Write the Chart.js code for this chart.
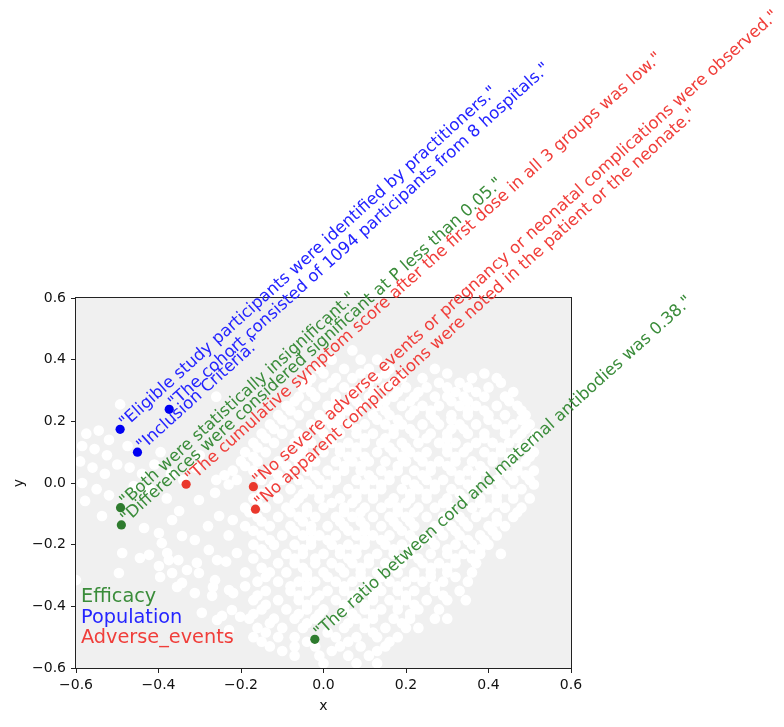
<!DOCTYPE html>
<html><head><meta charset="utf-8">
<script src="https://cdn.jsdelivr.net/npm/chart.js@4.4.1/dist/chart.umd.min.js"></script>
<style>html,body{margin:0;padding:0;background:#fff;}#c{display:block;}</style>
</head><body>
<canvas id="c" width="784" height="727"></canvas>
<script>
// ---------- data ----------
const categories = ['Efficacy', 'Population', 'Adverse_events'];

const efficacyX = [-0.492, -0.490, -0.021];
const efficacyY = [-0.080, -0.136, -0.507];
const efficacyText = ['Both were statistically insignificant.',
  'Differences were considered significant at P less than 0.05.',
  'The ratio between cord and maternal antibodies was 0.38.'];

const populationX = [-0.493, -0.451, -0.374];
const populationY = [0.174, 0.100, 0.239];
const populationText = ['Eligible study participants were identified by practitioners.',
  'Inclusion Criteria.',
  'The cohort consisted of 1094 participants from 8 hospitals.'];

const adverseX = [-0.333, -0.170, -0.165];
const adverseY = [-0.004, -0.012, -0.085];
const adverseText = ['The cumulative symptom score after the first dose in all 3 groups was low.',
  'No severe adverse events or pregnancy or neonatal complications were observed.',
  'No apparent complications were noted in the patient or the neonate.'];

const tickValues = [-0.6, -0.4, -0.2, 0.0, 0.2, 0.4, 0.6];

// background (white) point cloud, rows of [y, [x...]]
const cloudRows = [
  [0.43, [0.07]],
  [0.40, [0.02, 0.09, 0.13]],
  [0.37, [-0.01, 0.05, 0.11, 0.16, 0.27]],
  [0.34, [-0.03, 0.03, 0.07, 0.13, 0.19, 0.24, 0.36, 0.42]],
  [0.31, [-0.05, 0.0, 0.05, 0.09, 0.15, 0.2, 0.25, 0.3, 0.35, 0.4]],
  [0.28, [-0.06, -0.02, 0.03, 0.07, 0.11, 0.17, 0.22, 0.27, 0.3, 0.34, 0.39, 0.44]],
  [0.25, [-0.09, -0.04, 0.01, 0.05, 0.09, 0.13, 0.19, 0.24, 0.28, 0.33, 0.37, 0.42, 0.47]],
  [0.22, [-0.11, -0.06, -0.01, 0.04, 0.08, 0.12, 0.16, 0.21, 0.26, 0.31, 0.35, 0.4, 0.44, 0.49]],
  [0.19, [-0.13, -0.08, -0.03, 0.02, 0.06, 0.1, 0.15, 0.19, 0.24, 0.28, 0.33, 0.37, 0.42, 0.46, 0.5]],
  [0.16, [-0.15, -0.1, -0.06, 0.0, 0.04, 0.08, 0.12, 0.17, 0.22, 0.26, 0.3, 0.35, 0.39, 0.44, 0.48, 0.515]],
  [0.13, [-0.17, -0.12, -0.07, -0.03, 0.02, 0.06, 0.1, 0.14, 0.19, 0.23, 0.28, 0.32, 0.37, 0.41, 0.45, 0.5]],
  [0.10, [-0.19, -0.14, -0.09, -0.05, 0.0, 0.04, 0.08, 0.13, 0.17, 0.21, 0.25, 0.3, 0.34, 0.39, 0.43, 0.47, 0.51]],
  [0.07, [-0.2, -0.16, -0.11, -0.06, -0.02, 0.03, 0.07, 0.11, 0.15, 0.2, 0.24, 0.28, 0.32, 0.36, 0.41, 0.45, 0.49]],
  [0.04, [-0.22, -0.17, -0.13, -0.08, -0.04, 0.01, 0.05, 0.09, 0.14, 0.18, 0.22, 0.26, 0.31, 0.35, 0.39, 0.43, 0.47, 0.51]],
  [0.01, [-0.26, -0.21, -0.15, -0.1, -0.06, -0.01, 0.03, 0.08, 0.12, 0.16, 0.2, 0.25, 0.29, 0.33, 0.37, 0.42, 0.46, 0.5]],
  [-0.02, [-0.13, -0.08, -0.03, 0.01, 0.06, 0.1, 0.14, 0.19, 0.23, 0.27, 0.31, 0.36, 0.4, 0.44, 0.48]],
  [-0.05, [-0.17, -0.11, -0.06, -0.01, 0.04, 0.08, 0.12, 0.17, 0.21, 0.25, 0.3, 0.34, 0.38, 0.42, 0.46, 0.5]],
  [-0.08, [-0.19, -0.14, -0.09, -0.04, 0.0, 0.05, 0.1, 0.14, 0.18, 0.23, 0.27, 0.31, 0.36, 0.4, 0.44, 0.48]],
  [-0.11, [-0.16, -0.11, -0.06, -0.02, 0.03, 0.07, 0.12, 0.16, 0.2, 0.25, 0.29, 0.33, 0.37, 0.42, 0.46]],
  [-0.14, [-0.19, -0.13, -0.08, -0.03, 0.01, 0.05, 0.1, 0.14, 0.18, 0.22, 0.27, 0.31, 0.35, 0.4, 0.44]],
  [-0.17, [-0.15, -0.1, -0.05, -0.01, 0.03, 0.08, 0.12, 0.16, 0.21, 0.25, 0.29, 0.33, 0.38, 0.42]],
  [-0.20, [-0.17, -0.12, -0.07, -0.03, 0.02, 0.06, 0.1, 0.15, 0.19, 0.23, 0.27, 0.32, 0.36, 0.4]],
  [-0.23, [-0.14, -0.09, -0.05, 0.0, 0.04, 0.08, 0.13, 0.17, 0.21, 0.26, 0.3, 0.34, 0.38, 0.43]],
  [-0.26, [-0.11, -0.07, -0.02, 0.02, 0.07, 0.11, 0.15, 0.19, 0.24, 0.28, 0.32, 0.37]],
  [-0.29, [-0.19, -0.13, -0.09, -0.04, 0.0, 0.05, 0.09, 0.13, 0.18, 0.22, 0.26, 0.3, 0.36]],
  [-0.32, [-0.16, -0.11, -0.06, -0.02, 0.03, 0.07, 0.11, 0.16, 0.2, 0.24, 0.29, 0.35]],
  [-0.35, [-0.14, -0.08, -0.04, 0.01, 0.05, 0.09, 0.14, 0.18, 0.22, 0.27, 0.33]],
  [-0.38, [-0.17, -0.11, -0.06, -0.02, 0.03, 0.07, 0.12, 0.16, 0.2, 0.25, 0.3, 0.345]],
  [-0.41, [-0.15, -0.09, -0.04, 0.0, 0.05, 0.1, 0.14, 0.18, 0.23, 0.28]],
  [-0.44, [-0.18, -0.12, -0.07, -0.02, 0.03, 0.08, 0.12, 0.17, 0.21, 0.27, 0.3]],
  [-0.47, [-0.16, -0.1, -0.05, 0.05, 0.1, 0.15, 0.2, 0.23]],
  [-0.50, [-0.17, -0.11, -0.07, 0.03, 0.08, 0.13, 0.18]],
  [-0.53, [-0.13, -0.07, -0.02, 0.04, 0.09, 0.15]],
  [-0.56, [-0.07, -0.01, 0.06, 0.11]],
  [-0.585, [0.0, 0.08, 0.13]]
];
// staggered rows between the ones above (with holes)
const cloudRowsB = [
  [0.355, [0.0, 0.09, 0.15, 0.3, 0.39]],
  [0.325, [-0.04, 0.02, 0.11, 0.17, 0.28, 0.33, 0.43]],
  [0.295, [-0.03, 0.07, 0.12, 0.18, 0.23, 0.32, 0.37, 0.46]],
  [0.265, [-0.07, 0.03, 0.08, 0.15, 0.21, 0.31, 0.35, 0.45]],
  [0.235, [-0.08, 0.02, 0.06, 0.15, 0.22, 0.26, 0.35, 0.39, 0.48]],
  [0.205, [-0.1, 0.0, 0.04, 0.13, 0.18, 0.27, 0.31, 0.4, 0.48]],
  [0.175, [-0.12, -0.01, 0.03, 0.08, 0.17, 0.21, 0.31, 0.34, 0.44, 0.49]],
  [0.145, [-0.14, -0.04, 0.01, 0.1, 0.15, 0.25, 0.3, 0.39, 0.47, 0.51]],
  [0.115, [-0.16, -0.05, 0.04, 0.08, 0.16, 0.2, 0.3, 0.35, 0.43, 0.48]],
  [0.085, [-0.17, -0.07, -0.03, 0.06, 0.1, 0.19, 0.23, 0.32, 0.41, 0.45, 0.5]],
  [0.055, [-0.19, -0.09, -0.04, 0.05, 0.09, 0.18, 0.26, 0.3, 0.38, 0.47]],
  [0.025, [-0.24, -0.11, -0.02, 0.03, 0.11, 0.16, 0.24, 0.33, 0.37, 0.45, 0.49]],
  [-0.005, [-0.23, -0.12, -0.04, 0.01, 0.1, 0.14, 0.22, 0.27, 0.35, 0.43, 0.51]],
  [-0.035, [-0.15, -0.05, -0.01, 0.08, 0.12, 0.21, 0.25, 0.33, 0.42, 0.46]],
  [-0.065, [-0.16, -0.07, 0.02, 0.07, 0.16, 0.2, 0.29, 0.38, 0.42]],
  [-0.095, [-0.18, -0.08, -0.04, 0.05, 0.09, 0.18, 0.22, 0.31, 0.39, 0.47]],
  [-0.125, [-0.15, -0.05, 0.04, 0.09, 0.17, 0.21, 0.29, 0.34, 0.42]],
  [-0.155, [-0.17, -0.07, -0.03, 0.06, 0.1, 0.19, 0.28, 0.32, 0.41]],
  [-0.185, [-0.13, -0.03, 0.01, 0.1, 0.14, 0.22, 0.26, 0.35, 0.39]],
  [-0.215, [-0.15, -0.05, 0.04, 0.08, 0.17, 0.21, 0.3, 0.38]],
  [-0.245, [-0.17, -0.07, -0.02, 0.06, 0.11, 0.19, 0.23, 0.32, 0.36]],
  [-0.275, [-0.15, -0.05, 0.04, 0.09, 0.17, 0.26, 0.3]],
  [-0.305, [-0.14, -0.04, 0.01, 0.09, 0.14, 0.22, 0.26, 0.32]],
  [-0.335, [-0.19, -0.08, -0.04, 0.05, 0.13, 0.18, 0.27]],
  [-0.365, [-0.16, -0.06, -0.01, 0.07, 0.12, 0.2, 0.29]],
  [-0.395, [-0.14, -0.04, 0.05, 0.1, 0.18, 0.22]],
  [-0.425, [-0.17, -0.06, -0.01, 0.07, 0.12, 0.21]],
  [-0.455, [-0.13, -0.04, 0.06, 0.1, 0.19]],
  [-0.485, [-0.14, 0.01, 0.12]],
  [-0.515, [-0.15, -0.04, 0.06, 0.16]],
  [-0.545, [-0.1, 0.02, 0.13]]
];
const cloudUpperLeft = [[-0.493,0.255],[-0.575,0.16],[-0.545,0.17],[-0.52,0.14],[-0.585,0.12],[-0.555,0.11],
  [-0.525,0.09],[-0.59,0.07],[-0.56,0.05],[-0.53,0.03],[-0.5,0.06],[-0.475,0.12],[-0.47,0.05],[-0.44,0.03],
  [-0.41,0.06],[-0.395,0.1],[-0.37,0.03],[-0.585,0.0],[-0.55,-0.02],[-0.52,-0.04],[-0.46,-0.01],[-0.42,-0.02],
  [-0.38,-0.05],[-0.34,0.01],[-0.31,0.05],[-0.26,0.28],[-0.3,0.09]];
const cloudLowerLeft = [[-0.578,-0.058],[-0.537,-0.107],[-0.488,-0.227],[-0.496,-0.292],[-0.423,-0.233],
  [-0.435,-0.146],[-0.399,-0.162],[-0.392,-0.195],[-0.367,-0.12],[-0.35,-0.091],[-0.343,-0.172],[-0.302,-0.055],
  [-0.263,-0.032],[-0.253,-0.107],[-0.312,-0.185],[-0.278,-0.217],[-0.236,-0.255],[-0.375,-0.25],[-0.399,-0.269],
  [-0.367,-0.292],[-0.343,-0.324],[-0.302,-0.292],[-0.263,-0.315],[-0.229,-0.347],[-0.312,-0.357],[-0.27,-0.366],
  [-0.222,-0.412],[-0.295,-0.421],[-0.246,-0.431],[-0.229,-0.477],[-0.6,-0.315],[-0.445,-0.243],[-0.379,-0.227],
  [-0.352,-0.25],[-0.331,-0.282],[-0.307,-0.259],[-0.258,-0.25],[-0.21,-0.227],[-0.396,-0.305],[-0.355,-0.337],
  [-0.268,-0.337],[-0.219,-0.357],[-0.258,-0.444],[-0.202,-0.434],[-0.22,-0.12],[-0.23,-0.17],[-0.28,-0.14]];

// ---------- build ----------
const cloud = [];
cloudRows.concat(cloudRowsB).forEach(([y, xs]) => xs.forEach(x => cloud.push({x, y})));
cloudUpperLeft.concat(cloudLowerLeft).forEach(([x, y]) => cloud.push({x, y}));

const pointColors = ['#2e7b2e', '#0000f2', '#ea382c'];
const textColors = ['#3a8c3a', '#2424ff', '#f03e3a'];
const groups = [
  {x: efficacyX, y: efficacyY, t: efficacyText},
  {x: populationX, y: populationY, t: populationText},
  {x: adverseX, y: adverseY, t: adverseText}
];
const toPts = g => g.x.map((v, i) => ({x: v, y: g.y[i]}));

const fmt = v => Math.abs(v) < 1e-9 ? '0.0' : (v < 0 ? '\u2212' : '') + Math.abs(v).toFixed(1);
const FONT = 'DejaVu Sans';
const ANG = 42 * Math.PI / 180;

const bgPlugin = {
  id: 'bg',
  beforeDraw(chart) {
    const {ctx, chartArea: a} = chart;
    ctx.save();
    ctx.fillStyle = '#f0f0f0';
    ctx.fillRect(a.left, a.top, a.right - a.left, a.bottom - a.top);
    ctx.restore();
  }
};
const annoPlugin = {
  id: 'anno',
  afterDraw(chart) {
    const {ctx, chartArea: a} = chart;
    const xs = chart.scales.x, ys = chart.scales.y;
    ctx.save();
    ctx.strokeStyle = '#222';
    ctx.lineWidth = 1;
    ctx.strokeRect(a.left - 0.5, a.top - 0.5, a.right - a.left + 1, a.bottom - a.top + 1);
    ctx.font = '16.6px "' + FONT + '"';
    ctx.textBaseline = 'alphabetic';
    ctx.textAlign = 'left';
    groups.forEach((g, gi) => {
      g.x.forEach((v, i) => {
        const px = xs.getPixelForValue(v), py = ys.getPixelForValue(g.y[i]);
        ctx.save();
        ctx.translate(px + 5, py - 1);
        ctx.rotate(-ANG);
        ctx.fillStyle = textColors[gi];
        ctx.fillText('"' + g.t[i] + '"', 0, 0);
        ctx.restore();
      });
    });
    ctx.font = '19.3px "' + FONT + '"';
    categories.forEach((c, i) => {
      ctx.fillStyle = textColors[i];
      ctx.fillText(c, a.left + 5, a.bottom - 66 + i * 20.7);
    });
    ctx.restore();
  }
};

const axisCommon = {
  type: 'linear', min: -0.6, max: 0.6,
  afterBuildTicks(s) { s.ticks = tickValues.map(v => ({value: v})); },
  grid: {display: true, drawOnChartArea: false, drawTicks: true, tickLength: 5, color: '#222', lineWidth: 1},
  border: {display: false}
};

new Chart(document.getElementById('c'), {
  type: 'scatter',
  data: {
    datasets: [
      {data: cloud, order: 10, backgroundColor: '#ffffff', borderWidth: 0, pointRadius: 5.3, pointHoverRadius: 5.3, clip: 0},
      ...groups.map((g, i) => ({data: toPts(g), order: 1, backgroundColor: pointColors[i], borderWidth: 0,
        pointRadius: 4.6, pointHoverRadius: 4.6, clip: 0}))
    ]
  },
  options: {
    responsive: false, animation: false, devicePixelRatio: 1, events: [],
    layout: {padding: {top: 298, right: 213, left: 0, bottom: 0}},
    plugins: {legend: {display: false}, tooltip: {enabled: false}},
    scales: {
      x: Object.assign({}, axisCommon, {
        afterFit(s) { s.height = 59; },
        ticks: {callback: fmt, font: {family: FONT, size: 14}, color: '#111', padding: 4, maxRotation: 0, autoSkip: false},
        title: {display: true, text: 'x', font: {family: FONT, size: 14}, color: '#111', padding: {top: 0, bottom: 12}}
      }),
      y: Object.assign({}, axisCommon, {
        afterFit(s) { s.width = 76; },
        ticks: {callback: fmt, font: {family: FONT, size: 14}, color: '#111', padding: 5, autoSkip: false},
        title: {display: true, text: 'y', font: {family: FONT, size: 14}, color: '#111', padding: {top: 11, bottom: 0}}
      })
    }
  },
  plugins: [bgPlugin, annoPlugin]
});
</script>
</body></html>
